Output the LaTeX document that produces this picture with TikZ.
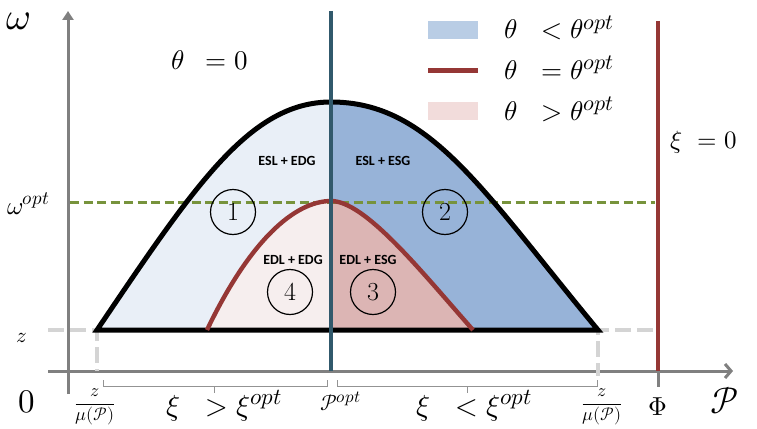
\documentclass[tikz,border=0pt]{standalone}
\usepackage{unicode-math}
\setmathfont{Latin Modern Math}
\newfontfamily\lblfont{Carlito}
\usetikzlibrary{arrows.meta}
\newcommand\optsup[1]{\hbox{\fontsize{#1}{#1}\selectfont$opt$}}
\definecolor{lblue}{HTML}{E9EFF7}
\definecolor{mblue}{HTML}{97B3D8}
\definecolor{legblue}{HTML}{B9CDE5}
\definecolor{lpink}{HTML}{F6EEEE}
\definecolor{mpink}{HTML}{DCB5B4}
\definecolor{legpink}{HTML}{F2DCDB}
\definecolor{dred}{HTML}{953735}
\definecolor{steel}{HTML}{31596C}
\definecolor{olive}{HTML}{77933C}
\definecolor{axgray}{HTML}{808080}
\definecolor{ltgray}{HTML}{D4D4D4}
\tikzset{
  axis/.style={axgray, line width=3pt},
  circlabel/.style={circle, draw, line width=1.2pt, minimum size=45pt, inner sep=0pt, font=\fontsize{26}{26}\selectfont},
  reglabel/.style={inner sep=0pt, font=\lblfont\bfseries\fontsize{14}{14}\selectfont},
  mathlabel/.style={inner sep=0pt},
  swatch/.style={minimum width=50pt, minimum height=18pt, inner sep=0pt},
  bracketline/.style={axgray!85, line width=1pt},
  guide/.style={ltgray, line width=3.2pt, dash pattern=on 16pt off 6pt}
}
\begin{document}
\begin{tikzpicture}[x=1pt,y=-1pt]
\useasboundingbox (0,0) rectangle (757,428);
\fill[white] (0,0) rectangle (757,428);
% key points
\coordinate (bl) at (97,330);
\coordinate (br) at (598,330);
\coordinate (peak) at (331,102);
\coordinate (rpeak) at (331,201);
\coordinate (rl) at (207,330);
\coordinate (rr) at (473,330);
\coordinate (base) at (331,330);
% fills
\fill[lblue] (base) -- (bl) .. controls (195,185) and (250,102) .. (peak) -- cycle;
\fill[mblue] (peak) .. controls (430,102) and (482,190) .. (br) -- (base) -- cycle;
\fill[lpink] (base) -- (rl) .. controls (250,240) and (295,201) .. (rpeak) -- cycle;
\fill[mpink] (rpeak) .. controls (365,201) and (420,270) .. (rr) -- (base) -- cycle;
% axes
\coordinate (ybot) at (68,394);
\coordinate (ytop) at (68,11);
\coordinate (xleft) at (48,371);
\coordinate (xright) at (733,371);
\draw[axis, -{Triangle[length=9pt,width=11pt]}] (ybot) -- (ytop);
\draw[axis, -{Straight Barb[length=6pt,width=14pt]}] (xleft) -- (xright);
% guides
\coordinate (gl) at (48,330);
\coordinate (gld) at (97,371);
\coordinate (gr) at (653,330);
\coordinate (grd) at (598,376);
\draw[guide] (gl) -- (bl) -- (gld);
\draw[guide] (gr) -- (br) -- (grd);
% omega opt dashed line
\coordinate (ol) at (70,202);
\coordinate (or) at (655,202);
\draw[olive, line width=3pt, dash pattern=on 9pt off 4.5pt] (ol) -- (or);
% curves
\draw[black, line width=5pt, line join=miter] (bl) .. controls (195,185) and (250,102) .. (peak) .. controls (430,102) and (482,190) .. (br) -- cycle;
\draw[dred, line width=4.4pt] (rl) .. controls (250,240) and (295,201) .. (rpeak) .. controls (365,201) and (420,270) .. (rr);
% vertical lines
\coordinate (vt) at (331,11);
\coordinate (vb) at (331,371);
\draw[steel, line width=3.4pt] (vt) -- (vb);
\coordinate (pt) at (658,21);
\coordinate (pb) at (658,371);
\coordinate (ptick) at (658,387);
\draw[dred, line width=3.4pt] (pt) -- (pb);
\draw[axis] (pb) -- (ptick);
% brackets
\draw[bracketline] (103,380) -- (103,386) -- (327,386) -- (327,380) (214,386) -- (214,393);
\draw[bracketline] (337,380) -- (337,386) -- (597,386) -- (597,380) (467,386) -- (467,393);
% region labels
\node[reglabel] (t1) at (287,161) {ESL + EDG};
\node[reglabel] (t2) at (383,161) {ESL + ESG};
\node[reglabel] (t4) at (293,260) {EDL + EDG};
\node[reglabel] (t3) at (368,260) {EDL + ESG};
\node[circlabel] (c1) at (233,212) {1};
\node[circlabel] (c2) at (445,212) {2};
\node[circlabel] (c3) at (373,292) {3};
\node[circlabel] (c4) at (290,292) {4};
% legend
\node[swatch, fill=legblue] (lg1) at (453,30) {};
\coordinate (lg2a) at (428,70);
\coordinate (lg2b) at (478,70);
\draw[dred, line width=5pt] (lg2a) -- (lg2b);
\node[swatch, fill=legpink] (lg3) at (453,111) {};
\node[mathlabel, anchor=base west, font=\fontsize{27}{27}\selectfont] (lt1) at (504,39) {$\theta\hspace{17pt}<\theta^{\optsup{22}}$};
\node[mathlabel, anchor=base west, font=\fontsize{27}{27}\selectfont] (lt2) at (504,79) {$\theta\hspace{17pt}=\theta^{\optsup{22}}$};
\node[mathlabel, anchor=base west, font=\fontsize{27}{27}\selectfont] (lt3) at (504,120) {$\theta\hspace{17pt}>\theta^{\optsup{22}}$};
% other labels
\node[mathlabel, anchor=base west, font=\fontsize{27}{27}\selectfont] (th0) at (171,70) {$\theta\hspace{14pt}=0$};
\node[mathlabel, anchor=base west, font=\fontsize{25}{25}\selectfont] (xi0) at (670,148) {$\xi\hspace{9pt}=0$};
\node[mathlabel, anchor=base west, font=\fontsize{38}{38}\selectfont] (om) at (6,30) {$\omega$};
\node[mathlabel, anchor=base west, font=\fontsize{25}{25}\selectfont] (omopt) at (7,214) {$\omega^{\optsup{19}}$};
\node[mathlabel, anchor=base, font=\fontsize{21}{21}\selectfont] (zl) at (22,342) {$z$};
\node[mathlabel, anchor=base, font=\fontsize{33}{33}\selectfont] (zero) at (27,412) {$0$};
\node[mathlabel, anchor=base, font=\fontsize{37}{37}\selectfont] (Pax) at (725,413) {$\mathcal{P}$};
\node[mathlabel, anchor=base, font=\fontsize{26}{26}\selectfont] (Phi) at (658,415) {$\Phi$};
\node[mathlabel, anchor=base west, font=\fontsize{22}{22}\selectfont] (Popt) at (320,410) {$\mathcal{P}^{\optsup{17}}$};
\node[mathlabel, anchor=base, font=\fontsize{18}{18}\selectfont] (zf1) at (95,408.5) {$\dfrac{z}{\mu(\mathcal{P})}$};
\node[mathlabel, anchor=base, font=\fontsize{18}{18}\selectfont] (zf2) at (602,408.5) {$\dfrac{z}{\mu(\mathcal{P})}$};
\node[mathlabel, anchor=base west, font=\fontsize{29}{29}\selectfont] (xig) at (166,415) {$\xi\hspace{18pt}>\xi^{\optsup{23}}$};
\node[mathlabel, anchor=base west, font=\fontsize{29}{29}\selectfont] (xil) at (416,415) {$\xi\hspace{18pt}<\xi^{\optsup{23}}$};
\end{tikzpicture}
\end{document}
